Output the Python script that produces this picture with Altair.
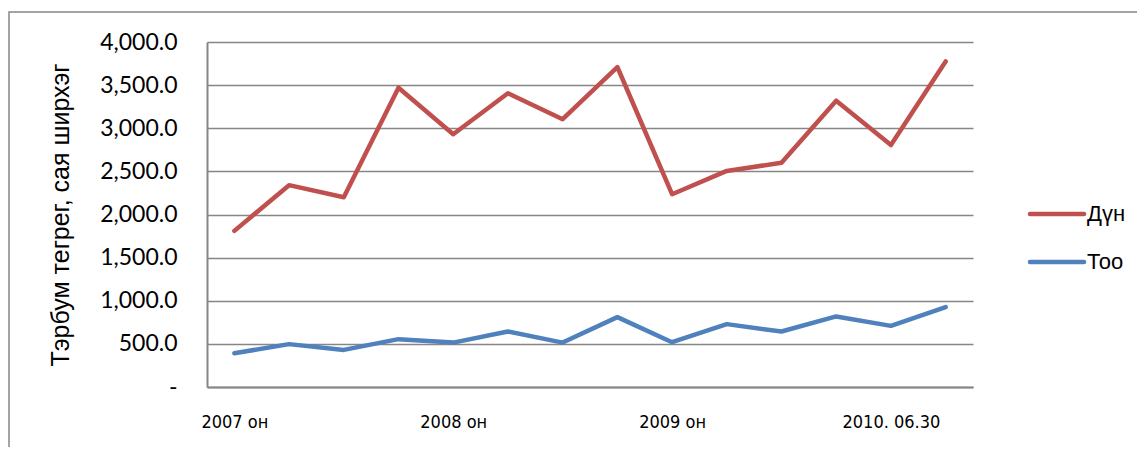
import altair as alt
import pandas as pd

periods = ["2007-Q1", "2007-Q2", "2007-Q3", "2007-Q4",
           "2008-Q1", "2008-Q2", "2008-Q3", "2008-Q4",
           "2009-Q1", "2009-Q2", "2009-Q3", "2009-Q4",
           "2010-Q1", "2010-Q2"]
tick_periods = ["2007-Q1", "2008-Q1", "2009-Q1", "2010-Q1"]
tick_texts = ["2007 он", "2008 он", "2009 он", "2010. 06.30"]

dun = [1810, 2340, 2200, 3470, 2930, 3405, 3105, 3710, 2235, 2505, 2600, 3320, 2805, 3775]
too = [392, 497, 430, 555, 515, 643, 515, 810, 519, 729, 643, 818, 709, 927]

series_names = ["Дүн", "Тоо"]
series_colors = ["#C0504D", "#4F81BD"]
y_title = "Тэрбум тегрег, сая ширхэг"

rows = []
for i, p in enumerate(periods):
    rows.append({"period": p, "series": series_names[0], "value": dun[i]})
    rows.append({"period": p, "series": series_names[1], "value": too[i]})
df = pd.DataFrame(rows)

x_label_expr = " : ".join(
    f"datum.value == '{k}' ? '{v}'" for k, v in zip(tick_periods, tick_texts)
) + " : ''"
y_label_expr = "datum.value == 0 ? '-\u00a0\u00a0\u00a0' : format(datum.value, ',.1f')"

GRID = "#868686"

lines = alt.Chart(df).mark_line(strokeWidth=4.5, strokeCap="round", strokeJoin="round").encode(
    x=alt.X("period:O", sort=periods,
            axis=alt.Axis(title=None, labelExpr=x_label_expr, labelAngle=0, ticks=False,
                          domainColor=GRID, domainWidth=2, labelPadding=26,
                          labelFont="DejaVu Sans Condensed, Roboto Condensed, Lato",
                          labelFontSize=18,
                          labelColor="black", grid=False)),
    y=alt.Y("value:Q", scale=alt.Scale(domain=[0, 4000], nice=False),
            axis=alt.Axis(title=y_title, values=list(range(0, 4001, 500)),
                          labelExpr=y_label_expr, ticks=False,
                          domainColor=GRID, domainWidth=2,
                          gridColor=GRID, gridWidth=1.5,
                          labelFont="Lato", labelFontSize=23, labelColor="black",
                          labelPadding=30,
                          titleFont="Liberation Sans", titleFontSize=25,
                          titleFontWeight="normal", titleColor="black",
                          titlePadding=26)),
    color=alt.Color("series:N", scale=alt.Scale(domain=series_names, range=series_colors),
                    legend=None),
)

# outer frame of the chart object
frame = alt.Chart(pd.DataFrame({"k": [0]})).mark_rect(
    fillOpacity=0, stroke=GRID, strokeWidth=1.5
).encode(x=alt.value(-198), x2=alt.value(1000), y=alt.value(-30), y2=alt.value(520))

legend_layers = []
legend_y = [172, 220]
for name, color, ly in zip(series_names, series_colors, legend_y):
    ldf = pd.DataFrame({"series": [name]})
    legend_layers.append(
        alt.Chart(ldf).mark_rule(strokeWidth=4.5, strokeCap="round", color=color).encode(
            x=alt.value(823), x2=alt.value(877), y=alt.value(ly)))
    legend_layers.append(
        alt.Chart(ldf).mark_text(align="left", baseline="middle", font="Liberation Sans",
                                 fontSize=22, color="black").encode(
            x=alt.value(880), y=alt.value(ly), text="series:N"))

chart = alt.layer(frame, lines, *legend_layers).properties(
    width=766, height=345,
    autosize=alt.AutoSizeParams(type="none"),
    padding={"left": 199, "top": 34, "right": 164, "bottom": 60},
).configure_view(stroke=None)

chart.save("out.html", embed_options={"renderer": "svg", "actions": False})
